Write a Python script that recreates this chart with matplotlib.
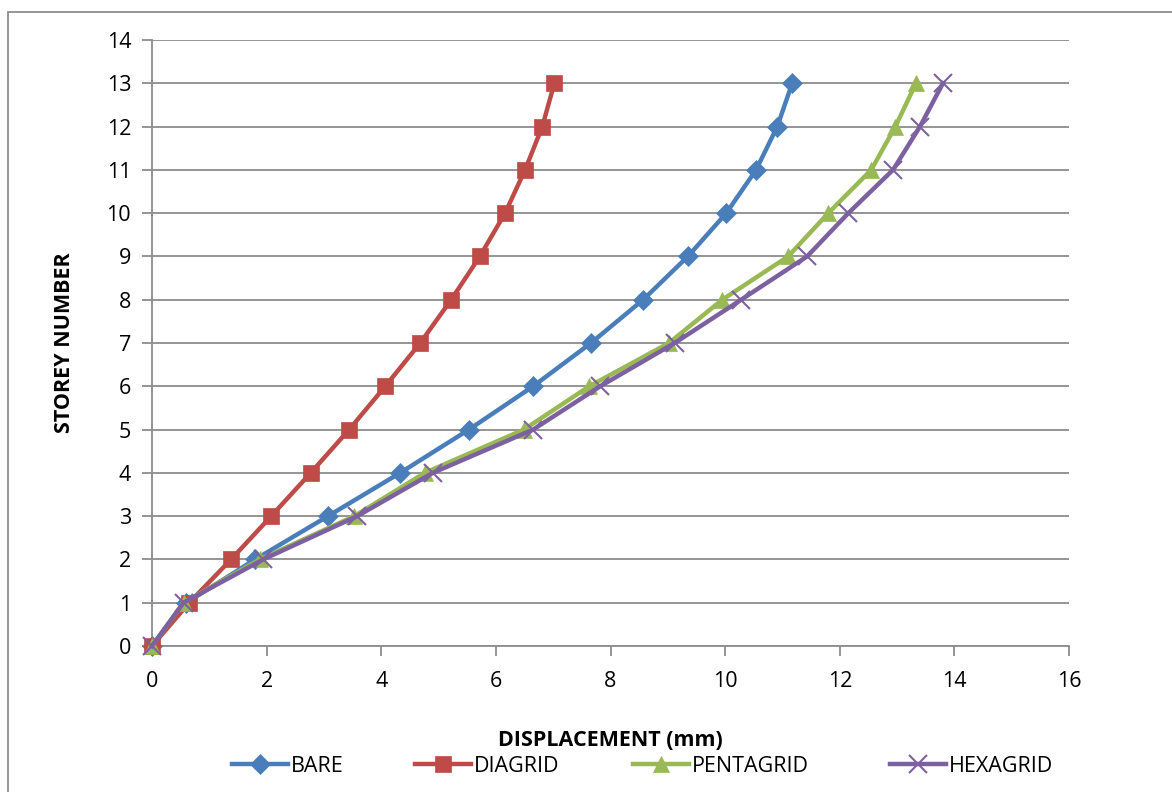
import matplotlib
matplotlib.use("Agg")
import matplotlib.pyplot as plt
from matplotlib.lines import Line2D
from matplotlib.patches import Rectangle

storeys = list(range(0, 14))
bare = [0, 0.6, 1.8, 3.07, 4.33, 5.53, 6.65, 7.66, 8.57, 9.35, 10.02, 10.54, 10.91, 11.17]
diagrid = [0, 0.65, 1.38, 2.08, 2.77, 3.44, 4.07, 4.68, 5.22, 5.72, 6.16, 6.51, 6.81, 7.02]
pentagrid = [0, 0.55, 1.88, 3.53, 4.76, 6.49, 7.63, 9.02, 9.95, 11.1, 11.8, 12.55, 12.97, 13.33]
hexagrid = [0, 0.55, 1.94, 3.58, 4.9, 6.65, 7.82, 9.12, 10.28, 11.43, 12.15, 12.93, 13.4, 13.8]
series_names = ["BARE", "DIAGRID", "PENTAGRID", "HEXAGRID"]
x_ticks = [0, 2, 4, 6, 8, 10, 12, 14, 16]
y_ticks = list(range(0, 15))

colors = ["#4A7EBB", "#BE4B48", "#98B954", "#7D60A0"]
markers = ["D", "s", "^", "x"]
msizes = [10, 12, 12, 13]

plt.rcParams['font.family'] = ['Open Sans', 'DejaVu Sans']

W, H = 1172, 792
fig = plt.figure(figsize=(W / 100, H / 100), dpi=100)
ax = fig.add_axes([152 / W, 1 - 646 / H, (1069 - 152) / W, (646 - 40) / H])

fig.patches.append(Rectangle((8 / W, -0.1), 1.2, 1 - 12 / H + 0.1, transform=fig.transFigure,
                             fill=False, edgecolor="#8C8C8C", linewidth=1.3))

data = [bare, diagrid, pentagrid, hexagrid]
for vals, c, m, ms, name in zip(data, colors, markers, msizes, series_names):
    ax.plot(vals, storeys, color=c, linewidth=3.2, marker=m, markersize=ms,
            markeredgewidth=1.5 if m == "x" else 0.5, markeredgecolor=c, markerfacecolor=c,
            label=name, zorder=3, clip_on=False)

ax.set_xlim(0, 16)
ax.set_ylim(0, 14)
ax.set_xticks(x_ticks)
ax.set_yticks(y_ticks)
ax.grid(axis="y", color="#8C8C8C", linewidth=1.3)
ax.set_axisbelow(True)
for s in ["top", "right"]:
    ax.spines[s].set_visible(False)
for s in ["left", "bottom"]:
    ax.spines[s].set_color("#8C8C8C")
    ax.spines[s].set_linewidth(1.3)
ax.tick_params(axis="both", colors="#8C8C8C", width=1.3, length=7, labelcolor="black", labelsize=15.5)
ax.tick_params(axis="x", pad=11)
ax.tick_params(axis="y", pad=8)

fig.text(65 / W, 1 - 343 / H, "STOREY NUMBER", rotation=90, ha="center", va="center",
         fontsize=15.5, fontweight="bold")
fig.text(610 / W, 1 - 741 / H, "DISPLACEMENT (mm)", ha="center", va="center",
         fontsize=15.5, fontweight="bold")

legend_x = [232, 415, 633, 890]
for vals, c, m, ms, name, lx in zip(data, colors, markers, msizes, series_names, legend_x):
    h = Line2D([], [], color=c, linewidth=3.2, marker=m, markersize=ms,
               markeredgewidth=1.5 if m == "x" else 0.5, markeredgecolor=c, markerfacecolor=c)
    leg = fig.legend([h], [name], loc="center left", bbox_to_anchor=(lx / W, 1 - 766 / H),
                     frameon=False, fontsize=15.5, handlelength=2.6, handletextpad=0.15,
                     borderpad=0, borderaxespad=0)

fig.savefig("out.png", dpi=100)
